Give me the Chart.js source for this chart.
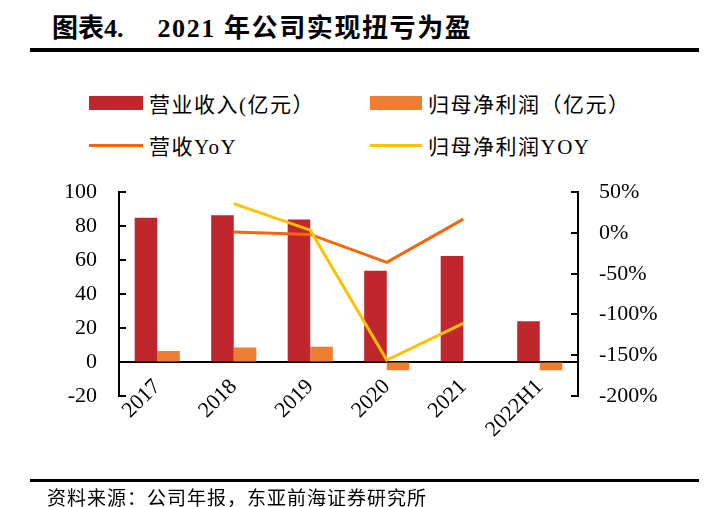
<!DOCTYPE html>
<html>
<head>
<meta charset="utf-8">
<script src="https://cdn.jsdelivr.net/npm/chart.js@4.4.0/dist/chart.umd.min.js"></script>
<style>
  body { margin: 0; width: 719px; height: 507px; background: #fff; position: relative; overflow: hidden;
         font-family: "Liberation Serif", "Noto Sans CJK SC", serif; color: #000; }
  #title { position: absolute; left: 52px; top: 7px; font-size: 26px; font-weight: bold; white-space: nowrap; }
  #title .num { margin-right: 34px; }
  #title .txt { letter-spacing: 1.6px; }
  .rule { position: absolute; left: 30px; width: 669px; background: #000; }
  #legend { position: absolute; left: 0; top: 0; }
  .item { position: absolute; display: flex; align-items: center; font-size: 21px; white-space: nowrap; height: 30px; letter-spacing: 1.5px; }
  .item .sw { display: inline-block; margin-right: 6px; }
  #box { position: absolute; left: 0; top: 157px; width: 719px; height: 323px; }
  #source { position: absolute; left: 47px; top: 483px; font-size: 19px; letter-spacing: 1px; white-space: nowrap; }
</style>
</head>
<body>
<div id="title"><span class="num">图表4.</span><span class="txt">2021 年公司实现扭亏为盈</span></div>
<div class="rule" style="top:48px;height:4px"></div>
<div id="legend"></div>
<div id="box"><canvas id="chart"></canvas></div>
<div class="rule" style="top:479px;height:3px"></div>
<div id="source">资料来源：公司年报，东亚前海证券研究所</div>
<script>
// 数据
const categories = ['2017', '2018', '2019', '2020', '2021', '2022H1'];
const revenue = [84.9, 86.5, 83.9, 53.7, 62.4, 24.0];        // 营业收入(亿元)
const netProfit = [6.5, 8.6, 9.0, -4.9, 0.3, -4.9];          // 归母净利润(亿元)
const revenueYoY = [null, 1.3, -1.8, -36, 17, null];         // 营收YoY (%)
const profitYoY = [null, 36, 3.4, -156, -111, null];         // 归母净利润YOY (%)
const leftTicks = [-20, 0, 20, 40, 60, 80, 100];
const rightTicks = [-200, -150, -100, -50, 0, 50];

const RED = '#C0272D', ORANGE = '#ED7D31', LINE_ORANGE = '#F7650C', YELLOW = '#FFC000';

Chart.defaults.color = '#000';
Chart.defaults.font.family = '"Liberation Serif", "Noto Sans CJK SC", serif';

// 刻度线向内
const innerTicks = {
    id: 'innerTicks',
    afterDraw(chart) {
        const ctx = chart.ctx;
        ctx.save();
        ctx.strokeStyle = '#000';
        ctx.lineWidth = 2;
        ['y', 'y1'].forEach(id => {
            const s = chart.scales[id];
            s.ticks.forEach((t, i) => {
                const y = Math.round(s.getPixelForTick(i));
                ctx.beginPath();
                if (id === 'y') { ctx.moveTo(s.right, y); ctx.lineTo(s.right + 7, y); }
                else { ctx.moveTo(s.left, y); ctx.lineTo(s.left - 7, y); }
                ctx.stroke();
            });
        });
        ctx.restore();
    }
};

const datasets = [
    { type: 'line', label: '营收YoY', data: revenueYoY, yAxisID: 'y1', borderColor: LINE_ORANGE,
      backgroundColor: LINE_ORANGE, borderWidth: 3, pointRadius: 0, tension: 0, order: 1 },
    { type: 'line', label: '归母净利润YOY', data: profitYoY, yAxisID: 'y1', borderColor: YELLOW,
      backgroundColor: YELLOW, borderWidth: 3, pointRadius: 0, tension: 0, order: 0 },
    { type: 'bar', label: '营业收入(亿元）', data: revenue, yAxisID: 'y', backgroundColor: RED, order: 2 },
    { type: 'bar', label: '归母净利润（亿元）', data: netProfit, yAxisID: 'y', backgroundColor: ORANGE, order: 2 }
];

// 图例
const legendPos = [
    { ds: 2, x: 89, y: 88, w: 54, bar: true },
    { ds: 3, x: 370, y: 88, w: 52, bar: true },
    { ds: 0, x: 89, y: 130, w: 54, bar: false },
    { ds: 1, x: 370, y: 130, w: 52, bar: false }
];
const legend = document.getElementById('legend');
legendPos.forEach(p => {
    const d = datasets[p.ds];
    const el = document.createElement('div');
    el.className = 'item';
    el.style.left = p.x + 'px';
    el.style.top = p.y + 'px';
    const sw = document.createElement('span');
    sw.className = 'sw';
    sw.style.width = p.w + 'px';
    sw.style.height = p.bar ? '14px' : '3px';
    sw.style.background = p.bar ? d.backgroundColor : d.borderColor;
    el.appendChild(sw);
    el.appendChild(document.createTextNode(d.label));
    legend.appendChild(el);
});

new Chart(document.getElementById('chart'), {
    data: { labels: categories, datasets: datasets },
    options: {
        responsive: true,
        maintainAspectRatio: false,
        animation: false,
        layout: { padding: { top: 0, bottom: 84, left: 0, right: 0 } },
        plugins: { legend: { display: false }, tooltip: { enabled: false } },
        datasets: { bar: { categoryPercentage: 0.59, barPercentage: 1.0 } },
        scales: {
            x: {
                position: { y: 0 },
                afterFit: s => { s.height = 0; },
                grid: { display: false, drawTicks: false },
                border: { display: true, color: '#000', width: 2 },
                ticks: { minRotation: 45, maxRotation: 45, padding: 12, font: { size: 22 } }
            },
            y: {
                position: 'left',
                min: -20, max: 100,
                afterFit: s => { s.width = 119; },
                afterBuildTicks: s => { s.ticks = leftTicks.map(v => ({ value: v })); },
                grid: { drawOnChartArea: false, drawTicks: false },
                border: { display: true, color: '#000', width: 2 },
                ticks: { padding: 22, font: { size: 22 } }
            },
            y1: {
                position: 'right',
                min: -200, max: 50,
                afterFit: s => { s.width = 141; },
                afterBuildTicks: s => { s.ticks = rightTicks.map(v => ({ value: v })); },
                grid: { drawOnChartArea: false, drawTicks: false },
                border: { display: true, color: '#000', width: 2 },
                ticks: { padding: 21, font: { size: 22 }, callback: v => v + '%' }
            }
        }
    },
    plugins: [innerTicks]
});
</script>
</body>
</html>
